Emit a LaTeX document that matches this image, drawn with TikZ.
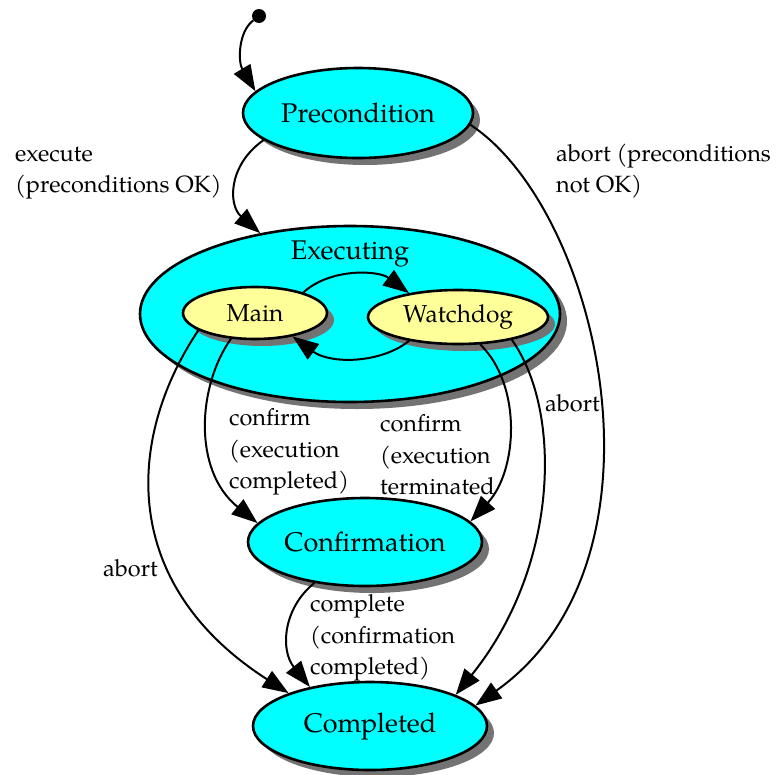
\documentclass[tikz,border=0pt]{standalone}
\usepackage{fontspec}
\setmainfont{TeX Gyre Pagella}
\usetikzlibrary{shapes.geometric,arrows.meta,shadows}
\definecolor{stcyan}{RGB}{0,255,255}
\definecolor{styellow}{RGB}{255,255,153}
\begin{document}
\begin{tikzpicture}[x=1pt,y=1pt,
  state/.style={ellipse,draw=black,line width=2.6pt,fill=stcyan,inner sep=0pt,
    drop shadow={shadow xshift=7pt,shadow yshift=-7pt,fill=black!55,opacity=1},
    font=\fontsize{27}{32}\selectfont},
  substate/.style={state,fill=styellow,font=\fontsize{24.5}{28}\selectfont},
  lbl/.style={align=left,anchor=west,inner sep=0pt,font=\fontsize{23.5}{31.5}\selectfont},
  trans/.style={line width=2pt,-{Triangle[length=26pt,width=19pt]}}]
\useasboundingbox (0,0) rectangle (778,-774);
% states
\node[circle,fill=black,inner sep=0pt,minimum size=14pt] (start) at (259,-16) {};
\node[state,minimum width=230pt,minimum height=90pt] (pre) at (358,-113) {Precondition};
\node[state,minimum width=420pt,minimum height=176pt] (exec) at (350,-314) {};
\node[font=\fontsize{27}{32}\selectfont,inner sep=0pt] (exectitle) at (350,-254) {Executing};
\node[substate,minimum width=144pt,minimum height=52pt] (main) at (255,-313) {Main};
\node[substate,minimum width=180pt,minimum height=54pt] (watch) at (458,-317) {Watchdog};
\node[state,minimum width=234pt,minimum height=88pt] (conf) at (365,-542) {Confirmation};
\node[state,minimum width=234pt,minimum height=88pt] (done) at (370,-726) {Completed};
% transitions
\draw[trans] (start) .. controls (238,-32) and (238,-62) .. (pre.168);
\draw[trans] (pre.196) .. controls (228,-165) and (228,-205) .. (exec.138.6);
\draw[trans] (pre.354) .. controls (600,-210) and (680,-560) .. (done.11);
\draw[trans] (main.23.6) .. controls (330,-268) and (378,-270) .. (watch.154);
\draw[trans] (watch.206) .. controls (380,-364) and (330,-364) .. (main.328);
\draw[trans] (main.197) .. controls (125,-440) and (120,-585) .. (done.158);
\draw[trans] (main.227) .. controls (198,-385) and (192,-470) .. (conf.170);
\draw[trans] (watch.309) .. controls (522,-385) and (518,-470) .. (conf.11);
\draw[trans] (watch.337) .. controls (562,-410) and (560,-565) .. (done.20);
\draw[trans] (conf.219) .. controls (283,-608) and (280,-650) .. (done.147);
% labels
\node[lbl] (l1) at (15,-173) {execute\\(preconditions OK)};
\node[lbl] (l2) at (556,-171) {abort (preconditions\\not OK)};
\node[lbl] (l3) at (103,-568) {abort};
\node[lbl] (l4) at (229,-452) {confirm\\(execution\\completed)};
\node[lbl] (l5) at (380,-455) {confirm\\(execution\\terminated};
\node[lbl] (l6) at (545,-403) {abort};
\node[lbl] (l7) at (310,-638) {complete\\(confirmation\\completed)};
\end{tikzpicture}
\end{document}
